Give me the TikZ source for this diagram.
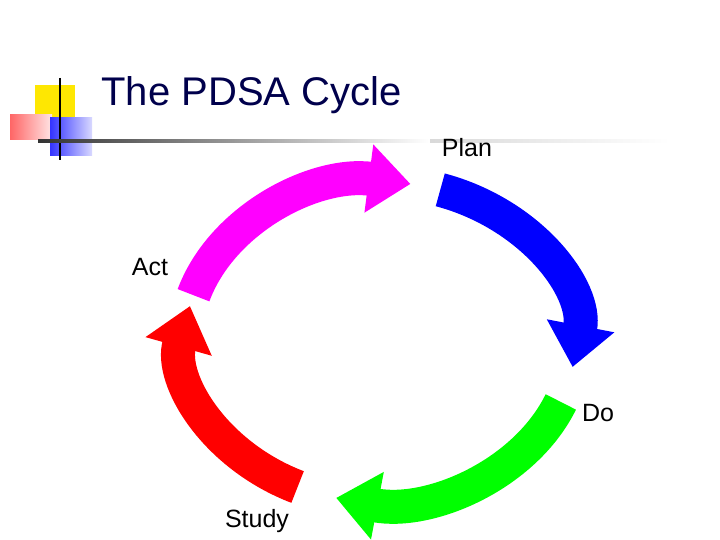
\documentclass[tikz,border=0pt]{standalone}
\usepackage{fontspec}
\setmainfont{Liberation Sans}
\usetikzlibrary{arrows.meta}
\definecolor{mag}{RGB}{255,0,255}
\definecolor{blu}{RGB}{0,0,255}
\definecolor{grn}{RGB}{0,255,0}
\definecolor{rd}{RGB}{255,0,0}
\begin{document}
\begin{tikzpicture}[x=1pt,y=-1pt,
  band/.style={line width=34pt,-{Triangle[width=66pt,length=42pt]}},
  lbl/.style={font=\fontsize{25}{28}\selectfont}]
\useasboundingbox (0,0) rectangle (720,540);
% logo
\fill[yellow!90!orange] (35,85) rectangle (75,125);
\shade[left color=red!60, right color=red!10] (10,115) rectangle (52,140);
\shade[left color=blue!80, right color=blue!15] (50,118) rectangle (92,156);
\draw[line width=1.2pt] (60,78) -- (60,160);
\shade[left color=black!80, right color=white] (38,140) rectangle (430,142.5);
\shade[left color=black!15, right color=white] (430,140) rectangle (670,142.5);
\node[anchor=west, text=blue!30!black, font=\fontsize{40}{44}\selectfont] (title) at (98,95) {The PDSA Cycle};
% arrows
\coordinate (c) at (380,342);
\draw[band, blu] ([shift={(-72:195 and 160)}]c) arc[start angle=-72, end angle=9, x radius=195, y radius=160] coordinate (bt);
\draw[band, grn] ([shift={(22:195 and 160)}]c) arc[start angle=22, end angle=103, x radius=195, y radius=160] coordinate (gt);
\draw[band, rd] ([shift={(115:195 and 160)}]c) arc[start angle=115, end angle=193, x radius=195, y radius=160] coordinate (rt);
\draw[band, mag] ([shift={(-163:195 and 160)}]c) arc[start angle=-163, end angle=-81, x radius=195, y radius=160] coordinate (mt);
% labels
\node[lbl] (plan) at (467,148) {Plan};
\node[lbl] (do) at (598,413) {Do};
\node[lbl] (study) at (257,521) {Study};
\node[lbl] (act) at (150,267) {Act};
\end{tikzpicture}
\end{document}
